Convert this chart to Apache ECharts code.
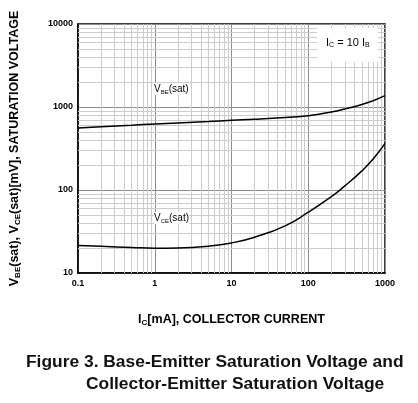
<!DOCTYPE html>
<html>
<head>
<meta charset="utf-8">
<script src="https://cdn.jsdelivr.net/npm/echarts@6/dist/echarts.min.js"></script>
<style>
    html, body { margin: 0; padding: 0; background: #fff; }
    #chart { width: 418px; height: 403px; }
</style>
</head>
<body>
<div id="chart"></div>
<script>
    // collector current, mA
    var ic_ma = [0.1, 0.2, 0.5, 1, 2, 5, 10, 20, 50, 100, 200, 300, 500, 700, 1000];
    // saturation voltages, mV
    var vbe_sat = [558, 577, 603, 624, 643, 668, 692, 712, 748, 786, 870, 945, 1070, 1190, 1370];
    var vce_sat = [21.5, 21, 20.3, 19.9, 20, 21, 23, 27, 37, 54, 83, 112, 170, 236, 365];

    // minor grid lines (2..9 of each decade)
    var x_minor = [0.2, 0.3, 0.4, 0.5, 0.6, 0.7, 0.8, 0.9,
                   2, 3, 4, 5, 6, 7, 8, 9,
                   20, 30, 40, 50, 60, 70, 80, 90,
                   200, 300, 400, 500, 600, 700, 800, 900];
    var y_minor = [20, 30, 40, 50, 60, 70, 80, 90,
                   200, 300, 400, 500, 600, 700, 800, 900,
                   2000, 3000, 4000, 5000, 6000, 7000, 8000, 9000];

    var FONT = '"Liberation Sans", Arial, sans-serif';

    function pairs(xs, ys) {
        var out = [];
        for (var i = 0; i < xs.length; i++) out.push([xs[i], ys[i]]);
        return out;
    }

    var minor_lines = [];
    for (var x of x_minor) minor_lines.push({xAxis: x});
    for (var y of y_minor) minor_lines.push({yAxis: y});

    var nameRich = {
        b: {fontSize: 12.5, fontWeight: 'bold', fontFamily: FONT, color: '#000'},
        s: {fontSize: 8, fontWeight: 'bold', fontFamily: FONT, color: '#000', padding: [7, 0, 0, 0]}
    };

    var chart = echarts.init(document.getElementById('chart'));
    var option = {
        animation: false,
        backgroundColor: '#fff',
        textStyle: {fontFamily: FONT},
        title: [
            {text: 'Figure 3. Base-Emitter Saturation Voltage and', left: 21, top: 349,
             textStyle: {fontSize: 17.4, fontWeight: 'bold', color: '#111', fontFamily: FONT}},
            {text: 'Collector-Emitter Saturation Voltage', left: 81, top: 371,
             textStyle: {fontSize: 17.4, fontWeight: 'bold', color: '#111', fontFamily: FONT}}
        ],
        grid: {left: 77, top: 24, width: 308, height: 249, show: true,
               borderColor: '#000', borderWidth: 1.5, backgroundColor: 'transparent'},
        xAxis: {
            type: 'log', logBase: 10, min: 0.1, max: 1000, interval: 1,
            name: '{b|I}{s|C}{b|[mA], COLLECTOR CURRENT}',
            nameLocation: 'middle', nameGap: 39,
            nameTextStyle: {rich: nameRich},
            axisLine: {lineStyle: {color: '#000', width: 1.5}},
            axisTick: {show: false},
            axisLabel: {fontSize: 9, fontWeight: 'bold', color: '#000', margin: 6,
                        formatter: function (v) { return String(+(+v).toPrecision(3)); }},
            splitLine: {show: true, lineStyle: {color: '#8c8c8c', width: 1}}
        },
        yAxis: {
            type: 'log', logBase: 10, min: 10, max: 10000, interval: 1,
            name: '{b|V}{s|BE}{b|(sat), V}{s|CE}{b|(sat)[mV], SATURATION VOLTAGE}',
            nameLocation: 'middle', nameGap: 56, nameRotate: 90,
            nameTextStyle: {rich: nameRich},
            axisLine: {lineStyle: {color: '#000', width: 1.5}},
            axisTick: {show: false},
            axisLabel: {fontSize: 9, fontWeight: 'bold', color: '#000', margin: 5,
                        formatter: function (v) { return String(Math.round(v)); }},
            splitLine: {show: true, lineStyle: {color: '#8c8c8c', width: 1}}
        },
        series: [
            {
                name: 'minor', type: 'line', z: 1, silent: true,
                data: [[1, 100]], showSymbol: false, lineStyle: {opacity: 0},
                markLine: {
                    silent: true, symbol: ['none', 'none'], animation: false,
                    label: {show: false},
                    lineStyle: {color: '#cccccc', type: 'solid', width: 1},
                    data: minor_lines
                }
            },
            {
                name: 'VBE(sat)', type: 'line', z: 5, smooth: true, showSymbol: false,
                data: pairs(ic_ma, vbe_sat),
                lineStyle: {color: '#000', width: 1.5}
            },
            {
                name: 'VCE(sat)', type: 'line', z: 5, smooth: true, showSymbol: false,
                data: pairs(ic_ma, vce_sat),
                lineStyle: {color: '#000', width: 1.5}
            }
        ],
        graphic: [
            {type: 'rect', z: 10, shape: {x: 317, y: 28, width: 61, height: 34},
             style: {fill: '#fff'}},
            {type: 'text', z: 11, left: 326, top: 37,
             style: {text: '{n|I}{s|C}{n| = 10 I}{s|B}', rich: {
                 n: {fontSize: 11, fontFamily: FONT, fill: '#000'},
                 s: {fontSize: 7, fontFamily: FONT, fill: '#000', padding: [6, 0, 0, 0]}
             }}},
            {type: 'text', z: 11, left: 154, top: 83,
             style: {text: '{n|V}{s|BE}{n|(sat)}', backgroundColor: '#fff', rich: {
                 n: {fontSize: 10, fontFamily: FONT, fill: '#000'},
                 s: {fontSize: 6, fontFamily: FONT, fill: '#000', padding: [6, 0, 0, 0]}
             }}},
            {type: 'text', z: 11, left: 154, top: 212,
             style: {text: '{n|V}{s|CE}{n|(sat)}', backgroundColor: '#fff', rich: {
                 n: {fontSize: 10, fontFamily: FONT, fill: '#000'},
                 s: {fontSize: 6, fontFamily: FONT, fill: '#000', padding: [6, 0, 0, 0]}
             }}}
        ]
    };
    chart.setOption(option);
</script>
</body>
</html>
